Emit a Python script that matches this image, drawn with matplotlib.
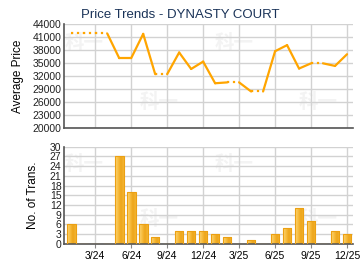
import numpy as np
import matplotlib
matplotlib.use("Agg")
import matplotlib.pyplot as plt
from matplotlib.colors import LinearSegmentedColormap

# months 1/24 .. 12/25, None = no transactions that month
months = list(range(24))
prices = [41900, None, None, None, 36200, 36200, 41800, 32500, None, 37500,
          33700, 35400, 30400, 30600, None, 28500, None, 37800, 39200, 33800,
          35000, None, 34400, 37100]
trans = [6, 0, 0, 0, 27, 16, 6, 2, 0, 4, 4, 4, 3, 2, 0, 1, 0, 3, 5, 11, 7, 0, 4, 3]
tick_pos = [2, 5, 8, 11, 14, 17, 20, 23]
tick_labels = ["3/24", "6/24", "9/24", "12/24", "3/25", "6/25", "9/25", "12/25"]
title = "Price Trends - DYNASTY COURT"

plt.rcParams['font.family'] = ['Liberation Sans', 'DejaVu Sans']

fig = plt.figure(figsize=(3.6, 2.7), dpi=100)
ax1 = fig.add_axes([0.1786, 0.5248, 0.802, 0.385])
ax2 = fig.add_axes([0.1786, 0.0974, 0.802, 0.359])

grid_c = "#d2d2d2"
spine_c = "#555555"
xlim = (-0.58, 23.5)

for ax in (ax1, ax2):
    ax.set_xlim(*xlim)
    ax.set_xticks(tick_pos)
    for s in ("top", "right"):
        ax.spines[s].set_visible(False)
    for s in ("left", "bottom"):
        ax.spines[s].set_color(spine_c)
        ax.spines[s].set_linewidth(1.2)
    ax.grid(True, color=grid_c, linewidth=1)
    ax.set_axisbelow(True)
    ax.tick_params(axis="y", length=0, labelsize=7.5, pad=2, colors="#222222")
    # watermark
    for (x, y) in [(0.0, 0.82), (0.52, 0.82), (0.26, 0.25), (0.81, 0.25)]:
        ax.text(x, y, "科一", transform=ax.transAxes, fontsize=14, fontweight="bold",
                color="#f3f3f3", family=["Noto Sans CJK SC", "DejaVu Sans"],
                ha="left", va="center", zorder=0)

# top: price line, carry forward through missing months with dotted segments
filled = []
last = None
for p in prices:
    if p is not None:
        last = p
    filled.append(last)
for i in range(len(months) - 1):
    ls = ":" if prices[i + 1] is None else "-"
    ax1.plot(months[i:i + 2], filled[i:i + 2], color="#ffa500", linewidth=1.6,
             linestyle=ls, solid_capstyle="round", zorder=3)
ax1.set_ylim(20000, 44000)
ax1.set_yticks(range(20000, 44001, 3000))
ax1.tick_params(axis="x", length=0, labelbottom=False)
ax1.set_ylabel("Average Price", fontsize=8.5, labelpad=6)
fig.text(0.5, 0.945, title, fontsize=9.5, color="#1a3358", ha="center", va="center")

# bottom: transactions, gradient bars
ax2.set_ylim(0, 30)
ax2.set_yticks(range(0, 31, 3))
ax2.tick_params(axis="x", length=3, color="#888888", labelsize=7.5, pad=2)
ax2.set_xticklabels(tick_labels)
ax2.set_ylabel("No. of Trans.", fontsize=8.5, labelpad=8)

cmap = LinearSegmentedColormap.from_list("bar", ["#fdd77c", "#f8bf42", "#eea51a", "#f3b534"])
grad = np.linspace(0, 1, 64).reshape(1, -1)
bars = ax2.bar(months, trans, width=0.72, color="none", edgecolor="#eca012",
               linewidth=0.8, zorder=3)
for b, v in zip(bars, trans):
    if v <= 0:
        continue
    x0, w = b.get_x(), b.get_width()
    im = ax2.imshow(grad, cmap=cmap, aspect="auto", extent=(x0, x0 + w, 0, v),
                    zorder=2, interpolation="bilinear")
    im.set_clip_path(b)
ax2.set_xlim(*xlim)
ax2.set_ylim(0, 30)

fig.savefig("out.png", dpi=100)
